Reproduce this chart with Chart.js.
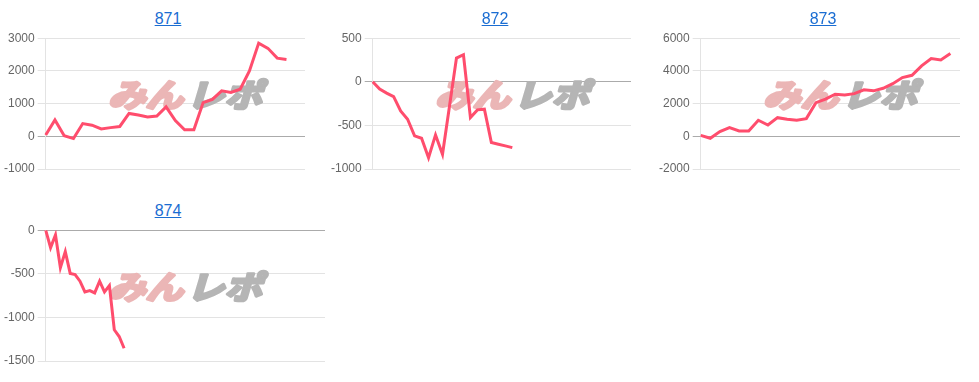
<!DOCTYPE html>
<html>
<head>
<meta charset="utf-8">
<script src="https://cdn.jsdelivr.net/npm/chart.js@4.4.1/dist/chart.umd.min.js"></script>
<style>
  html, body { margin: 0; padding: 0; background: #fff; width: 979px; height: 382px; overflow: hidden; }
  .cell { position: absolute; width: 336px; height: 192px; }
  .cell .title { height: 28px; text-align: center; font: 16px Arial, "Liberation Sans", sans-serif; line-height: 18px; padding-top: 10px; box-sizing: border-box; }
  .cell .title a { color: #1a6dd2; text-decoration: underline; }
  .cell canvas { display: block; }
</style>
</head>
<body>

<div class="cell" style="left:0px; top:0px;">
  <div class="title"><a href="#">871</a></div>
  <canvas id="c871" width="336" height="162"></canvas>
</div>
<div class="cell" style="left:327px; top:0px;">
  <div class="title"><a href="#">872</a></div>
  <canvas id="c872" width="336" height="162"></canvas>
</div>
<div class="cell" style="left:655px; top:0px;">
  <div class="title"><a href="#">873</a></div>
  <canvas id="c873" width="336" height="162"></canvas>
</div>
<div class="cell" style="left:0px; top:192px;">
  <div class="title"><a href="#">874</a></div>
  <canvas id="c874" width="336" height="162"></canvas>
</div>

<script>
// number of x slots per chart (x labels are not shown)
const slots871 = 29;
const slots872 = 38;
const slots873 = 28;
const slots874 = 58;

// series values
const data871 = [40, 500, 20, -70, 390, 340, 225, 265, 300, 700, 650, 590, 620, 900, 480, 200, 200,
  1030, 1130, 1390, 1340, 1440, 2000, 2850, 2690, 2390, 2350];
const data872 = [0, -84, -130, -169, -333, -429, -620, -647, -870, -609, -831, -280, 272, 310,
  -410, -322, -314, -697, -716, -735, -755];
const data873 = [60, -120, 290, 530, 330, 330, 980, 690, 1140, 1040, 980, 1080, 2060, 2270, 2570,
  2530, 2610, 2840, 2780, 2940, 3220, 3590, 3730, 4310, 4750, 4670, 5060];
const data874 = [0, -200, -54, -431, -246, -496, -508, -585, -708, -692, -719, -585, -708, -635,
  -1142, -1219, -1354];

// y tick labels
const ticks871 = [-1000, 0, 1000, 2000, 3000];
const ticks872 = [-1000, -500, 0, 500];
const ticks873 = [-2000, 0, 2000, 4000, 6000];
const ticks874 = [-1500, -1000, -500, 0];

const LINE = "#ff4d6d";
const GRID = "#e3e3e3";
const ZERO = "#ababab";

function slotLabels(n) {
  const out = [];
  for (let i = 1; i <= n; i++) out.push(String(i));
  return out;
}

// "みんレポ" watermark behind the line
const watermark = {
  id: "watermark",
  beforeDatasetsDraw(chart) {
    const ctx = chart.ctx;
    const cx = chart.width / 2 + 17;
    const cy = 67;
    ctx.save();
    ctx.font = 'italic bold 32px "Noto Sans CJK JP", sans-serif';
    ctx.textBaseline = "middle";
    ctx.lineJoin = "round";
    ctx.lineWidth = 3;
    const a = "みん", b = "レポ";
    const gap = 3;
    const wa = ctx.measureText(a).width;
    const wb = ctx.measureText(b).width;
    const total = wa + gap + wb;
    ctx.translate(cx, cy);
    ctx.scale(154 / total, 1);
    ctx.fillStyle = ctx.strokeStyle = "#ebb6b6";
    ctx.strokeText(a, -total / 2, 0);
    ctx.fillText(a, -total / 2, 0);
    ctx.fillStyle = ctx.strokeStyle = "#b5b5b5";
    ctx.strokeText(b, -total / 2 + wa + gap, 0);
    ctx.fillText(b, -total / 2 + wa + gap, 0);
    ctx.restore();
  },
};

function makeChart(id, slots, values, yTicks, padRight) {
  return new Chart(document.getElementById(id), {
    type: "line",
    data: {
      labels: slotLabels(slots),
      datasets: [
        {
          data: values,
          borderColor: LINE,
          borderWidth: 3,
          pointRadius: 0,
          fill: false,
          tension: 0,
        },
      ],
    },
    options: {
      responsive: false,
      animation: false,
      layout: { padding: { left: 1, right: padRight, top: 0, bottom: 21 } },
      plugins: { legend: { display: false }, tooltip: { enabled: false } },
      scales: {
        x: { display: false },
        y: {
          min: yTicks[0],
          max: yTicks[yTicks.length - 1],
          ticks: {
            stepSize: yTicks[1] - yTicks[0],
            color: "#666",
            font: { size: 12, family: "Arial, 'Liberation Sans'" },
            callback: (v) => String(v),
          },
          grid: {
            color: (c) => (c.tick && c.tick.value === 0 ? ZERO : GRID),
          },
          border: { color: GRID },
        },
      },
    },
    plugins: [watermark],
  });
}

makeChart("c871", slots871, data871, ticks871, 31);
makeChart("c872", slots872, data872, ticks872, 32);
makeChart("c873", slots873, data873, ticks873, 31);
makeChart("c874", slots874, data874, ticks874, 11);
</script>
</body>
</html>
